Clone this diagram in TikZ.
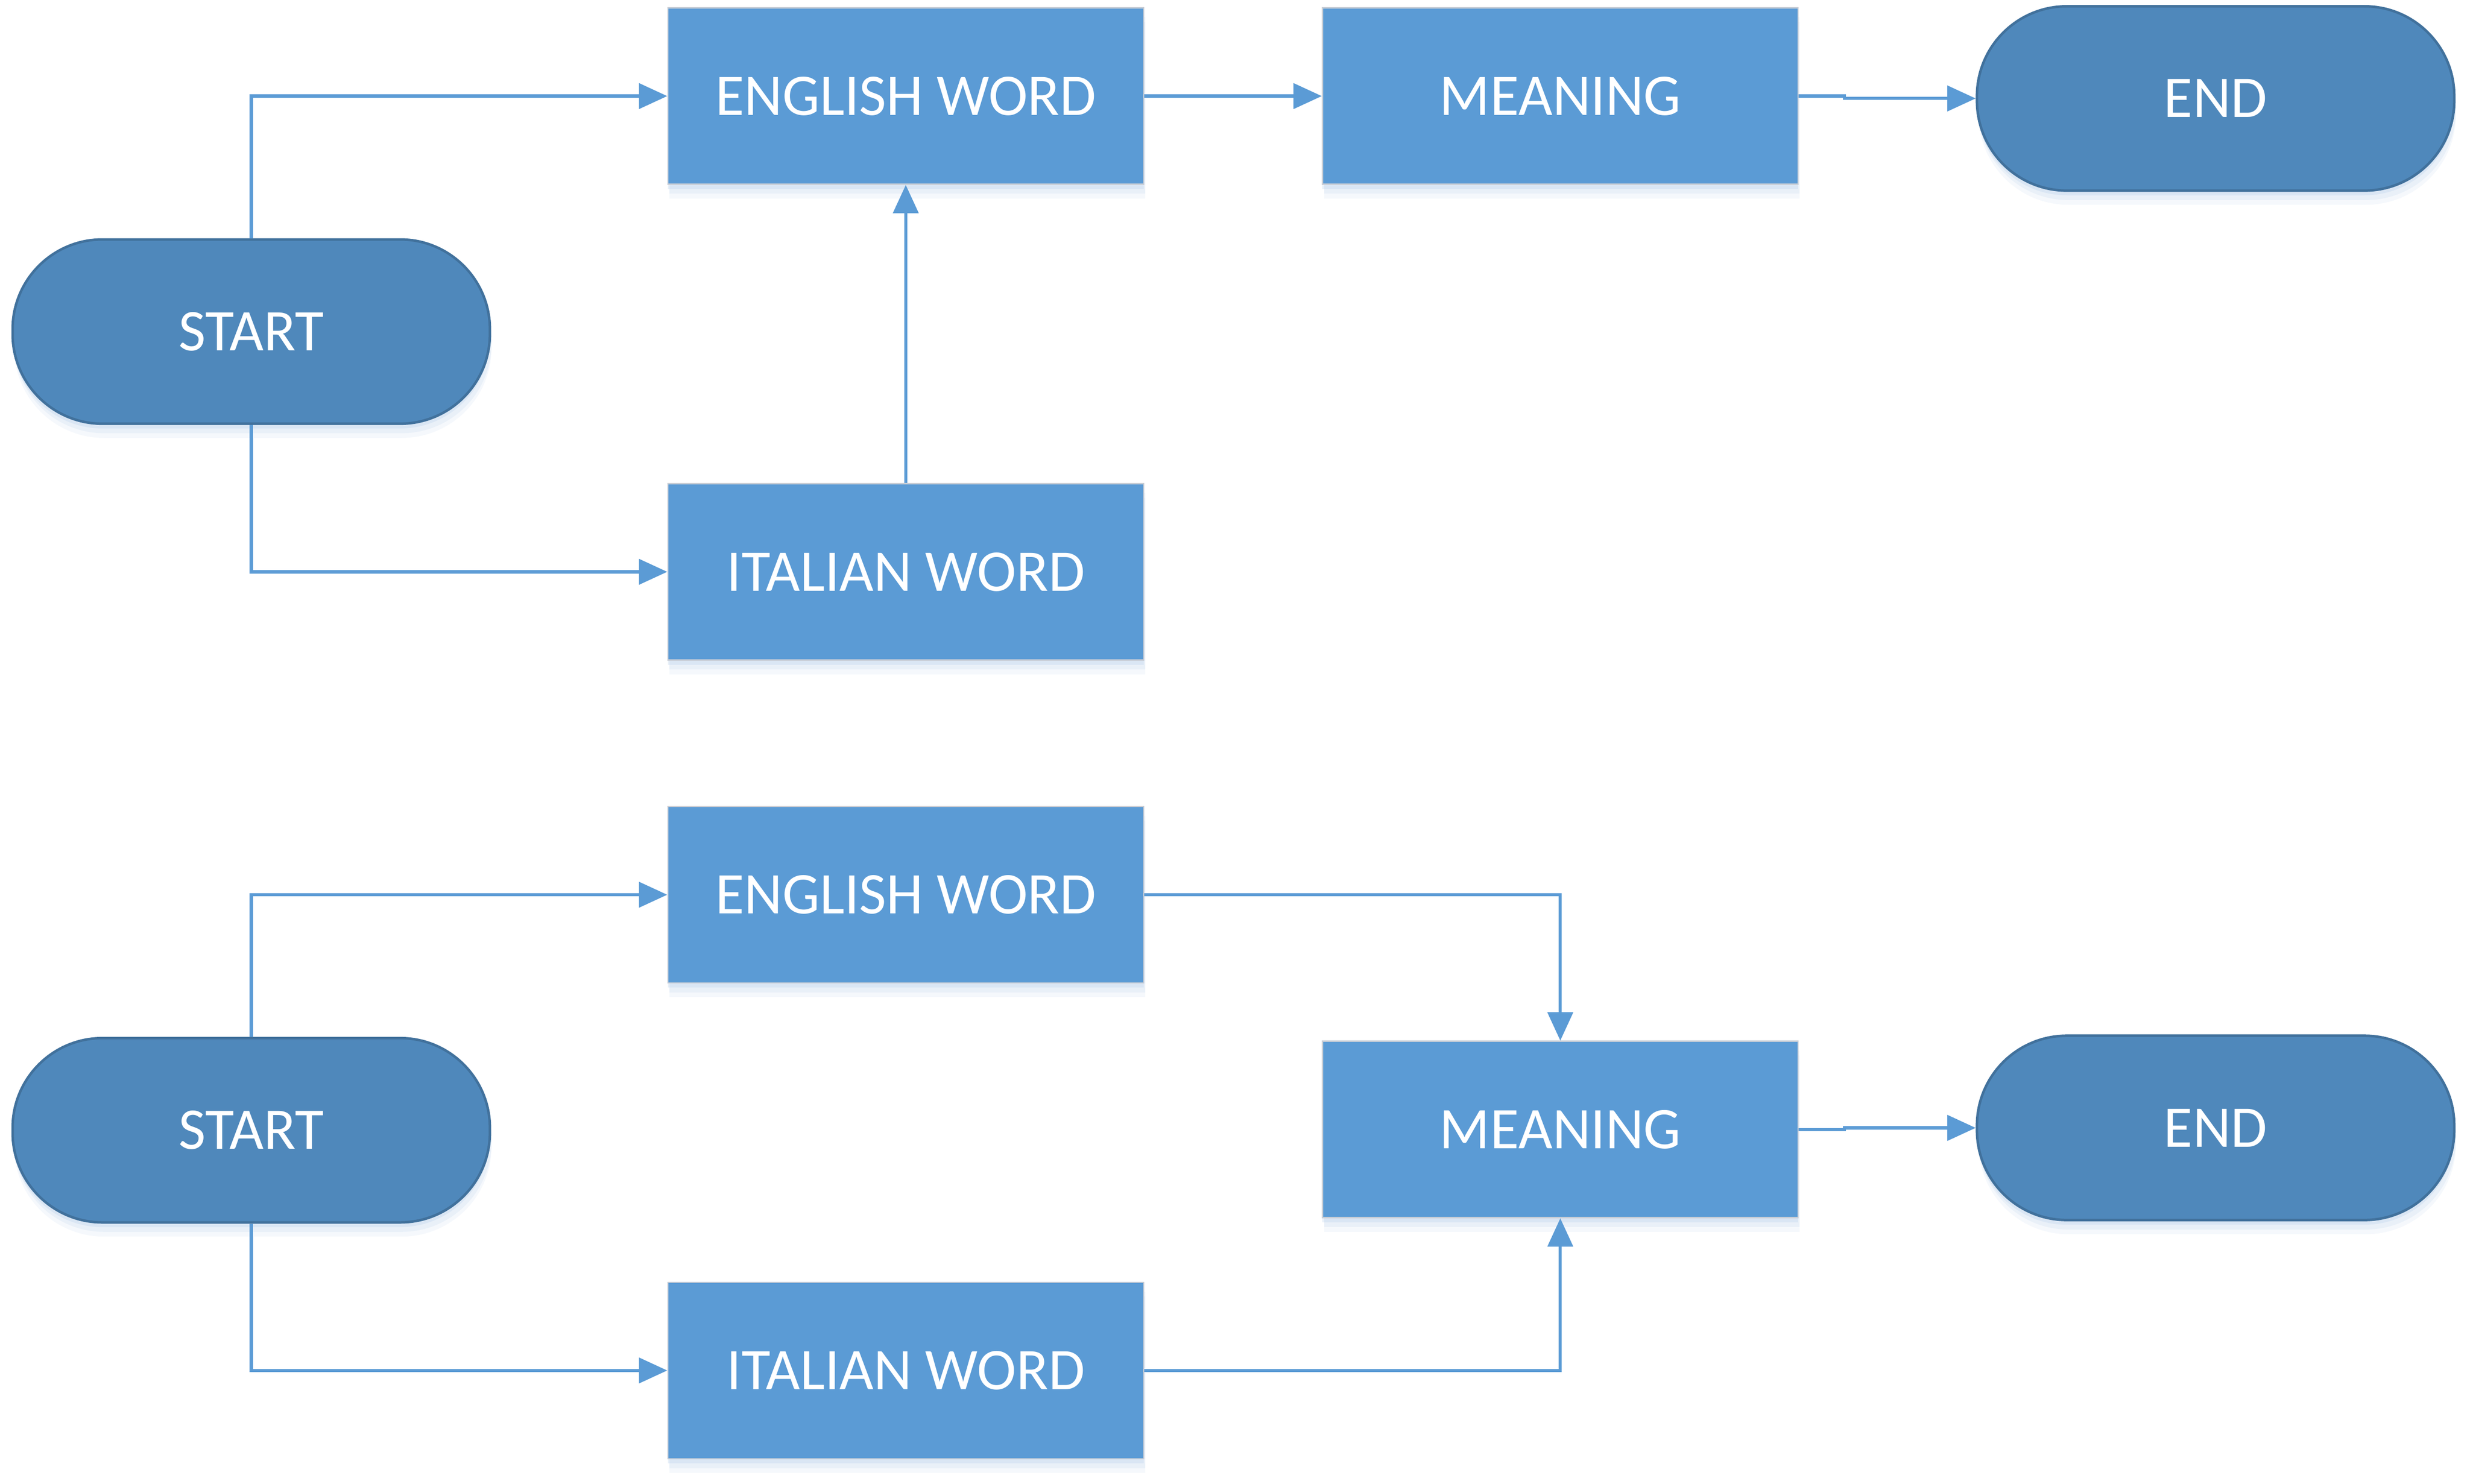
\documentclass[tikz,border=0pt]{standalone}
\usepackage{fontspec}
\setmainfont{Carlito}
\usetikzlibrary{arrows.meta,shadows}
\definecolor{boxblue}{HTML}{5B9BD5}
\definecolor{termblue}{HTML}{4F88BB}
\definecolor{termedge}{HTML}{41719C}
\definecolor{boxedge}{HTML}{C9CED6}
\definecolor{shadowblue}{HTML}{B9D0EA}
\tikzset{
  softshadow/.style={
    general shadow={fill=shadowblue, opacity=0.15, shadow yshift=-9pt, shadow xshift=1pt},
    general shadow={fill=shadowblue, opacity=0.2, shadow yshift=-6pt, shadow xshift=1pt},
    general shadow={fill=shadowblue, opacity=0.3, shadow yshift=-3pt}},
  procbox/.style={rectangle, softshadow, fill=boxblue, draw=boxedge, line width=0.8pt,
    minimum width=302pt, minimum height=112pt, inner sep=0pt, text=white,
    font=\fontsize{37.5}{42}\selectfont},
  termbox/.style={rectangle, rounded corners=57pt, softshadow, fill=termblue, draw=termedge, line width=1.6pt,
    minimum width=303pt, minimum height=117pt, inner sep=0pt, text=white,
    font=\fontsize{37.5}{42}\selectfont},
  conn/.style={draw=boxblue, line width=2pt, -{Triangle[length=18pt,width=16pt]}}
}
\begin{document}
\begin{tikzpicture}[x=1pt,y=-1pt]
\useasboundingbox (0,0) rectangle (1568,942);
% top diagram
\node[termbox] (s1) at (159.5,210.5) {START};
\node[procbox] (e1) at (575,61) {ENGLISH WORD};
\node[procbox] (i1) at (575,363) {ITALIAN WORD};
\node[procbox] (m1) at (990.5,61) {MEANING};
\node[termbox] (end1) at (1406.5,62.5) {END};
\draw[conn] (s1.north) |- (e1.west);
\draw[conn] (s1.south) |- (i1.west);
\draw[conn] (i1.north) -- (e1.south);
\draw[conn] (e1.east) -- (m1.west);
\draw[conn] (m1.east) -- ++(29,0) |- (end1.west);
% bottom diagram
\node[termbox] (s2) at (159.5,717.5) {START};
\node[procbox] (e2) at (575,568) {ENGLISH WORD};
\node[procbox] (i2) at (575,870) {ITALIAN WORD};
\node[procbox] (m2) at (990.5,717) {MEANING};
\node[termbox] (end2) at (1406.5,716) {END};
\draw[conn] (s2.north) |- (e2.west);
\draw[conn] (s2.south) |- (i2.west);
\draw[conn] (e2.east) -| (m2.north);
\draw[conn] (i2.east) -| (m2.south);
\draw[conn] (m2.east) -- ++(29,0) |- (end2.west);
\end{tikzpicture}
\end{document}
